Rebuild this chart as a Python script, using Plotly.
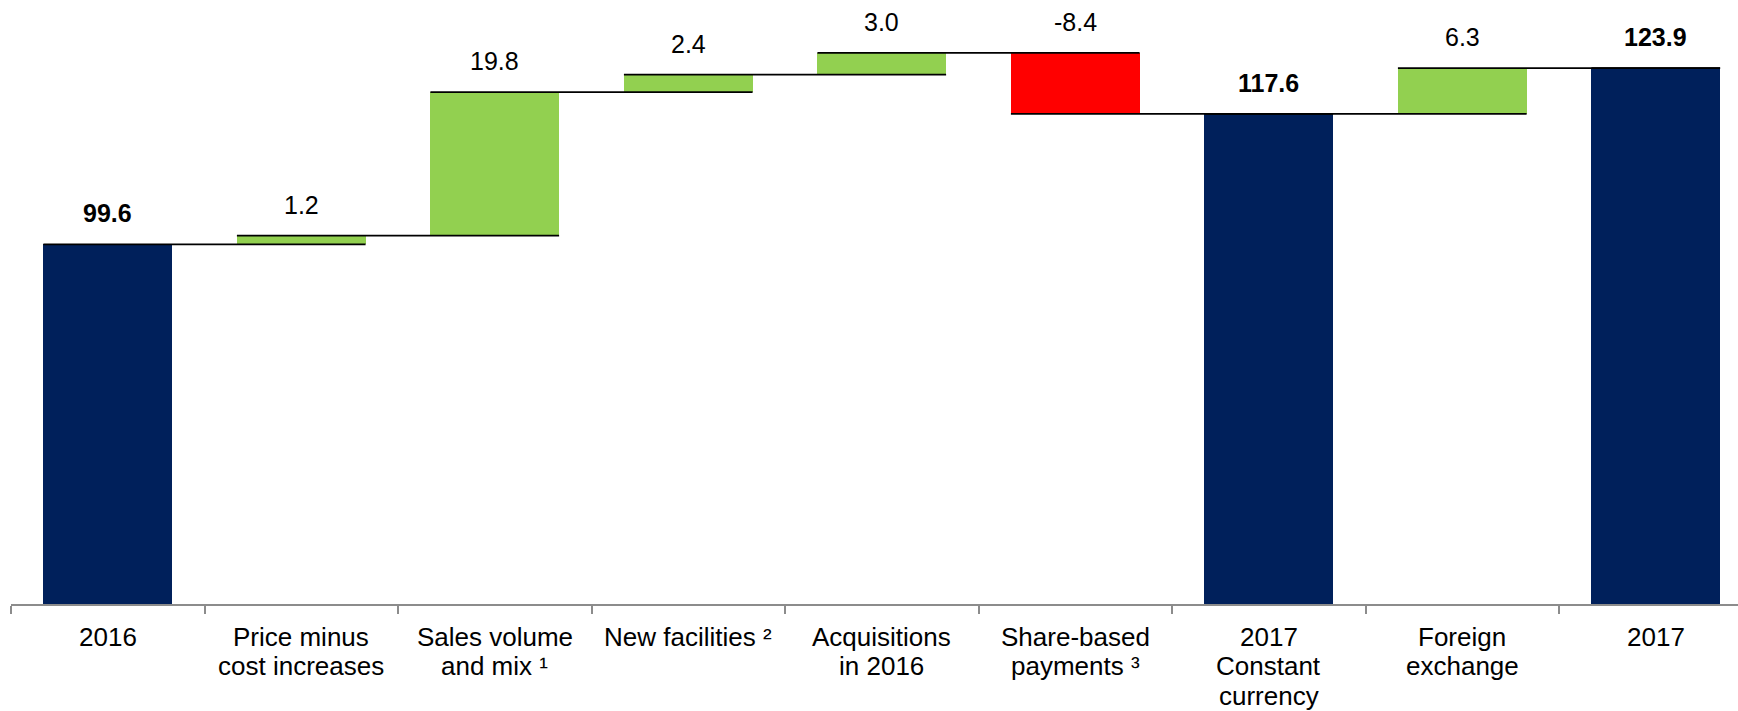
import plotly.graph_objects as go

# ---- data ----
categories = [
    "2016",
    "Price minus<br>cost increases",
    "Sales volume<br>and mix ¹",
    "New facilities ²",
    "Acquisitions<br>in 2016",
    "Share-based<br>payments ³",
    "2017<br>Constant<br>currency",
    "Foreign<br>exchange",
    "2017",
]
values = [99.6, 1.2, 19.8, 2.4, 3.0, -8.4, 117.6, 6.3, 123.9]
kinds = ["total", "relative", "relative", "relative", "relative",
         "relative", "total", "relative", "total"]

# ---- styles ----
NAVY = "#00205B"
GREEN = "#92D050"
RED = "#FF0000"
AXIS_GREY = "#8C8C8C"
FONT = "Arial, Liberation Sans, sans-serif"
BAR_W = 0.665

n = len(values)
xs = list(range(n))
bases, heights, colors, ends, tops = [], [], [], [], []
running = 0.0
for v, k in zip(values, kinds):
    if k == "total":
        base, h = 0.0, v
        running = v
        colors.append(NAVY)
    else:
        base, h = running, v
        running = running + v
        colors.append(GREEN if v >= 0 else RED)
    bases.append(base)
    heights.append(h)
    ends.append(running)
    tops.append(max(base, base + h))

fig = go.Figure()
fig.add_trace(go.Bar(
    x=xs, y=heights, base=bases, width=BAR_W,
    marker=dict(color=colors, line=dict(width=0)),
    hoverinfo="skip", showlegend=False,
))

# connector lines: from left edge of bar i to right edge of bar i+1 at level ends[i]
lx, ly = [], []
for i in range(n):
    x0 = xs[i] - BAR_W / 2
    x1 = (xs[i + 1] + BAR_W / 2) if i < n - 1 else xs[i] + BAR_W / 2
    lx += [x0, x1, None]
    ly += [ends[i], ends[i], None]
fig.add_trace(go.Scatter(
    x=lx, y=ly, mode="lines", line=dict(color="black", width=1.8),
    hoverinfo="skip", showlegend=False,
))

annotations = []
# value labels
for i, (v, k) in enumerate(zip(values, kinds)):
    txt = f"{v:.1f}"
    if k == "total":
        txt = f"<b>{txt}</b>"
    annotations.append(dict(
        x=xs[i], y=tops[i], xref="x", yref="y", text=txt, showarrow=False,
        yanchor="middle", xanchor="center", yshift=31,
        font=dict(family=FONT, size=25, color="black"),
    ))
# category labels (one annotation per line, tight line spacing)
LINE_GAP = 29.3
for i, cat in enumerate(categories):
    for j, line in enumerate(cat.split("<br>")):
        annotations.append(dict(
            x=xs[i], y=0, xref="x", yref="paper", text=line, showarrow=False,
            yanchor="middle", xanchor="center", yshift=-33 - j * LINE_GAP,
            font=dict(family=FONT, size=26, color="black"),
        ))

fig.update_layout(
    width=1738, height=711,
    margin=dict(l=11, r=0, t=0, b=107, pad=0),
    paper_bgcolor="white", plot_bgcolor="white",
    bargap=0,
    annotations=annotations,
    xaxis=dict(
        range=[-0.5, 8.425], showgrid=False, zeroline=False,
        showline=True, linecolor=AXIS_GREY, linewidth=2,
        ticks="outside", ticklen=8, tickwidth=2, tickcolor=AXIS_GREY,
        tickmode="array", tickvals=[i - 0.5 for i in range(n + 1)],
        showticklabels=False, fixedrange=True,
    ),
    yaxis=dict(
        range=[50, 133.3], visible=False, showgrid=False, zeroline=False,
        fixedrange=True,
    ),
)

fig.write_html("out.html")
